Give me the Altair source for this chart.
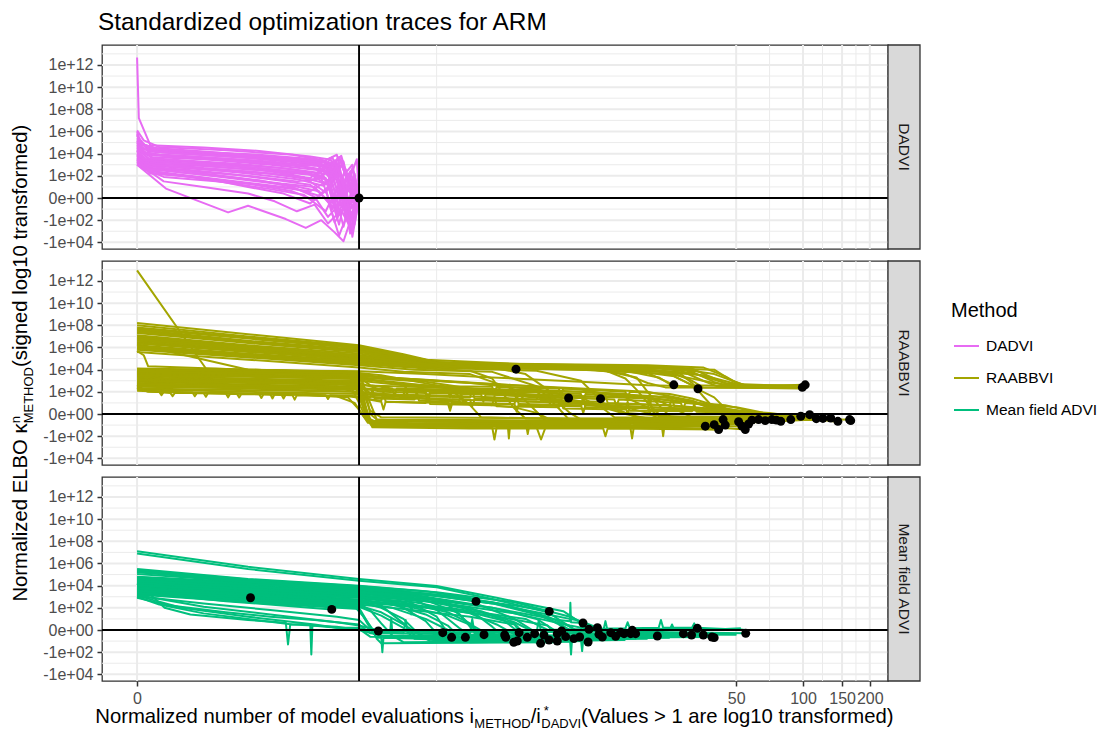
import math
import altair as alt
import pandas as pd

# ---------------------------------------------------------------- data
METHODS = ["DADVI", "RAABBVI", "Mean field ADVI"]
COLORS = ["#E76BF3", "#A3A500", "#00BF7D"]

X_BREAK_VALUES = [0, 50, 100, 150, 200]
X_BREAK_LABELS = ["0", "50", "100", "150", "200"]
Y_BREAK_VALUES = [-4, -2, 0, 2, 4, 6, 8, 10, 12]
Y_BREAK_LABELS = ["-1e+04", "-1e+02", "0e+00", "1e+02", "1e+04",
                  "1e+06", "1e+08", "1e+10", "1e+12"]
Y_MINOR = [-3, -1, 1, 3, 5, 7, 9, 11, 13]
REF_X = [1.0]
REF_Y = [0.0]

# traces, in transformed units: x (<=1 linear, >1 -> 1+log10), y (signed log10)
DADVI_TRACES = [
    [(0, 12.67), (0.008, 7.2), (0.06, 4.75), (0.3, 4.55), (0.55, 4.25), (0.78, 3.75), (0.86, 3.5), (0.9, 3.9), (0.93, 1.2), (0.96, 2.4), (1, 0)],
    [(0, 6.1), (0.03, 5.2), (0.1, 4.6), (0.4, 4.3), (0.7, 3.9), (0.84, 3.4), (0.88, 1.5), (0.92, 3.0), (0.97, 0.6), (1, 0)],
    [(0, 5.6), (0.05, 4.4), (0.25, 4.1), (0.55, 3.8), (0.8, 3.2), (0.86, 2.0), (0.9, 3.2), (0.95, -0.6), (1, 0)],
    [(0, 5.0), (0.04, 4.0), (0.2, 3.8), (0.5, 3.4), (0.75, 2.9), (0.85, 3.3), (0.9, 0.8), (0.94, 2.6), (0.98, -1.0), (1, 0)],
    [(0, 4.6), (0.06, 3.7), (0.3, 3.5), (0.6, 3.0), (0.82, 2.5), (0.87, 1.0), (0.91, 2.8), (0.96, -1.6), (1, 0)],
    [(0, 4.3), (0.03, 3.3), (0.15, 3.2), (0.45, 2.9), (0.7, 2.4), (0.84, 2.0), (0.89, -0.4), (0.93, 1.8), (0.97, -2.2), (1, 0)],
    [(0, 3.9), (0.05, 3.0), (0.2, 2.8), (0.5, 2.4), (0.75, 1.9), (0.85, 0.5), (0.9, 2.2), (0.95, -1.2), (0.99, 1.3), (1, 0)],
    [(0, 3.5), (0.04, 2.7), (0.25, 2.4), (0.5, 2.0), (0.72, 1.5), (0.83, 1.8), (0.88, -1.0), (0.92, 1.0), (0.97, -2.8), (1, 0)],
    [(0, 3.1), (0.035, 2.6), (0.12, 1.9), (0.3, 1.6), (0.55, 1.2), (0.78, 0.6), (0.86, 1.6), (0.9, -1.8), (0.95, 0.7), (1, 0)],
    [(0, 3.0), (0.13, 0.85), (0.41, -1.3), (0.5, -0.7), (0.67, -1.9), (0.76, -2.7), (0.83, -2.0), (0.89, -3.1), (0.93, -3.9), (0.97, -1.5), (1, 0)],
    [(0, 5.3), (0.03, 4.8), (0.12, 4.3), (0.35, 3.9), (0.6, 3.6), (0.8, 3.3), (0.87, 2.6), (0.91, 3.6), (0.95, 1.5), (1, 0)],
    [(0, 4.9), (0.05, 4.2), (0.2, 4.0), (0.45, 3.7), (0.72, 3.2), (0.84, 2.8), (0.88, 3.7), (0.93, 0.2), (0.99, 3.5), (1, 0)],
    [(0, 4.1), (0.04, 3.5), (0.18, 3.3), (0.4, 3.1), (0.65, 2.7), (0.82, 2.2), (0.87, 3.0), (0.92, -0.8), (0.96, 1.9), (1, 0)],
    [(0, 3.7), (0.06, 3.1), (0.3, 2.9), (0.55, 2.5), (0.78, 2.1), (0.86, 1.2), (0.91, -2.4), (0.95, 1.0), (1, 0)],
    [(0, 3.3), (0.04, 2.8), (0.2, 2.3), (0.45, 1.8), (0.65, 1.3), (0.8, 1.0), (0.87, -0.6), (0.92, 1.5), (0.96, -3.2), (1, 0)],
    [(0, 4.5), (0.08, 3.5), (0.3, 3.2), (0.5, 2.7), (0.7, 2.1), (0.85, 1.3), (0.9, 2.5), (0.94, -1.9), (0.98, 1.8), (1, 0)],
    [(0, 3.6), (0.1, 2.2), (0.3, 1.8), (0.5, 1.0), (0.66, 0.4), (0.78, -0.5), (0.85, 0.8), (0.89, -2.2), (0.94, -0.5), (1, 0)],
    [(0, 3.2), (0.12, 1.5), (0.3, 1.0), (0.5, 0.4), (0.62, -0.3), (0.72, -1.2), (0.8, -0.6), (0.86, -2.3), (0.92, -1.1), (0.97, -3.0), (1, 0)],
    [(0, 4.0), (0.07, 2.9), (0.35, 2.5), (0.6, 2.2), (0.8, 1.6), (0.88, 2.6), (0.92, 0.3), (0.96, -0.9), (1, 0)],
    [(0, 5.8), (0.02, 4.9), (0.08, 4.5), (0.3, 4.2), (0.6, 3.7), (0.8, 3.4), (0.88, 3.0), (0.92, 1.8), (0.97, 3.0), (1, 0)],
    [(0, 4.7), (0.05, 3.9), (0.25, 3.6), (0.5, 3.3), (0.76, 2.8), (0.86, 2.4), (0.9, 0.0), (0.95, 2.2), (1, 0)],
    [(0, 3.4), (0.08, 2.4), (0.2, 2.1), (0.45, 1.5), (0.7, 0.9), (0.82, 0.2), (0.88, 1.4), (0.93, -2.6), (0.97, 0.4), (1, 0)],
    [(0, 5.4), (0.04, 4.5), (0.15, 4.1), (0.4, 3.8), (0.65, 3.5), (0.82, 3.0), (0.9, 2.1), (0.93, 3.3), (0.97, -0.3), (1, 0)],
    [(0, 4.4), (0.06, 3.4), (0.22, 3.0), (0.5, 2.6), (0.75, 2.3), (0.85, 1.8), (0.9, -1.3), (0.93, 0.6), (0.98, -2.4), (1, 0)],
    [(0, 3.8), (0.05, 2.7), (0.2, 2.6), (0.4, 2.2), (0.6, 1.7), (0.78, 1.2), (0.86, -0.2), (0.91, -3.4), (0.95, -1.3), (1, 0)],
    [(0, 5.1), (0.02, 4.2), (0.1, 3.9), (0.35, 3.6), (0.6, 3.3), (0.8, 2.9), (0.87, 3.6), (0.91, 1.3), (0.95, -0.8), (0.98, 2.2), (1, 0)],
    [(0, 4.2), (0.06, 3.2), (0.3, 2.7), (0.55, 2.3), (0.78, 1.8), (0.85, 2.9), (0.9, -0.9), (0.94, 1.4), (0.97, -3.5), (1, 0)],
    [(0, 3.0), (0.04, 2.5), (0.2, 2.0), (0.4, 1.4), (0.6, 0.8), (0.75, 0.3), (0.85, -1.2), (0.9, 0.9), (0.96, -2.0), (1, 0)],
    [(0, 6.0), (0.015, 5.0), (0.07, 4.4), (0.25, 4.2), (0.55, 3.9), (0.8, 3.5), (0.88, 3.1), (0.92, 3.8), (0.96, 1.0), (1, 0)],
    [(0, 3.6), (0.05, 2.9), (0.3, 2.2), (0.55, 1.6), (0.7, 1.0), (0.8, 0.1), (0.86, -1.7), (0.92, -0.4), (0.97, -2.7), (1, 0)],
    [(0, 4.8), (0.03, 4.1), (0.15, 3.7), (0.4, 3.4), (0.7, 3.0), (0.83, 2.6), (0.89, 3.4), (0.93, 1.0), (0.97, 2.7), (1, 0)],
    [(0, 3.3), (0.06, 2.2), (0.25, 1.9), (0.5, 1.3), (0.7, 0.6), (0.8, -0.2), (0.87, 1.0), (0.91, -1.5), (0.96, -0.2), (1, 0)],
    [(0, 5.2), (0.03, 4.4), (0.12, 4.1), (0.4, 3.75), (0.65, 3.4), (0.82, 3.1), (0.88, 2.3), (0.92, 3.4), (0.96, 0.5), (1, 0)],
    [(0, 4.55), (0.05, 3.6), (0.2, 3.4), (0.45, 3.1), (0.7, 2.6), (0.84, 2.2), (0.89, 3.1), (0.93, -0.3), (0.97, 1.6), (1, 0)],
    [(0, 3.95), (0.06, 3.0), (0.25, 2.7), (0.5, 2.2), (0.72, 1.7), (0.84, 1.1), (0.9, 2.0), (0.94, -1.0), (0.98, 0.8), (1, 0)],
    [(0, 3.45), (0.05, 2.6), (0.25, 2.2), (0.5, 1.6), (0.7, 1.1), (0.82, 0.6), (0.88, -0.8), (0.93, 0.8), (0.97, -1.8), (1, 0)],
    [(0, 5.7), (0.02, 4.8), (0.1, 4.4), (0.35, 4.05), (0.62, 3.6), (0.8, 3.3), (0.87, 2.8), (0.91, 3.7), (0.95, 2.0), (0.99, -0.5), (1, 0)],
    [(0, 4.25), (0.04, 3.4), (0.2, 3.1), (0.5, 2.8), (0.75, 2.3), (0.86, 1.6), (0.9, 2.9), (0.94, 0.4), (0.98, -1.2), (1, 0)],
]
DADVI_POINTS = [(1.0, 0.0)]

RAABBVI_TRACES = [
    [(0, 12.96), (0.31, 4.1), (0.6, 3.95), (0.95, 3.7), (1.02, 1.0), (1.06, -0.9), (1.5, -1.0), (2.2, -1.0), (2.56, -1.1)],
    [(0, 8.2), (0.5, 7.2), (1.0, 6.2), (1.2, 5.4), (1.35, 4.7), (1.8, 4.3), (2.3, 3.9), (2.55, 3.5), (2.7, 2.7), (3.0, 2.5)],
    [(0, 7.6), (0.5, 6.6), (1.0, 5.8), (1.3, 4.75), (1.6, 4.3), (1.707, 4.04)],
    [(0, 7.3), (0.5, 6.4), (1.0, 5.6), (1.3, 4.6), (1.8, 4.3), (2.35, 3.8), (2.6, 2.8), (2.7, 2.5), (3.01, 2.63)],
    [(0, 7.0), (0.5, 6.1), (1.0, 5.3), (1.25, 4.7), (1.7, 4.25), (2.2, 4.0), (2.42, 3.4), (2.5, 2.6), (2.9, 2.45)],
    [(0, 6.5), (0.5, 5.8), (1.0, 5.0), (1.3, 4.4), (1.9, 4.15), (2.3, 3.7), (2.418, 2.63)],
    [(0, 6.2), (0.45, 5.5), (1.0, 4.8), (1.3, 4.3), (2.0, 4.0), (2.4, 3.6), (2.5, 2.6), (2.527, 2.28)],
    [(0, 6.0), (0.5, 5.3), (1.0, 4.6), (1.3, 4.2), (1.8, 3.9), (2.0, 3.0), (2.1, 1.0), (2.2, 0.1), (2.6, -0.5), (2.8, -0.5)],
    [(0, 5.8), (0.5, 5.1), (1.0, 4.4), (1.25, 4.0), (1.6, 3.8), (1.8, 2.5), (1.9, 0.5), (1.95, -0.6), (2.5, -0.8), (2.64, -0.5)],
    [(0, 5.6), (0.5, 4.9), (1.0, 4.2), (1.2, 3.8), (1.5, 3.6), (1.7, 2.2), (1.8, 0.2), (1.85, -0.8), (2.4, -0.9), (2.6, -0.96)],
    [(0, 5.7), (0.03, 5.3), (0.05, 4.3), (0.5, 4.0), (1.0, 3.8), (1.04, 1.5), (1.08, -0.5), (1.3, -0.7), (2.0, -0.8), (2.71, -0.7)],
    [(0, 6.3), (0.5, 4.0), (1.0, 3.7), (1.1, 3.5), (1.4, 2.4), (1.5, 0.8), (1.55, -0.3), (2.3, -0.6), (2.8, -0.5)],
    [(0, 4.1), (0.5, 3.95), (0.95, 3.8), (1.0, 2.5), (1.03, -0.3), (1.1, -0.9), (1.67, -1.0), (1.675, -2.2), (1.68, -1.0), (2.0, -1.0), (2.62, -1.4)],
    [(0, 3.9), (0.5, 3.75), (0.97, 3.55), (1.01, 1.0), (1.05, -0.6), (1.5, -0.7), (2.3, -0.8), (2.74, -1.4)],
    [(0, 3.7), (0.6, 3.5), (1.0, 3.3), (1.3, 2.9), (1.6, 2.0), (1.8, 1.5), (1.944, 1.44)],
    [(0, 3.6), (0.6, 3.4), (1.0, 3.2), (1.2, 2.8), (1.6, 1.8), (1.9, 1.5), (2.088, 1.38)],
    [(0, 3.5), (0.5, 3.4), (0.98, 3.2), (1.02, 0.5), (1.06, -1.0), (1.8, -1.2), (1.82, -2.3), (1.84, -1.2), (2.6, -1.1), (3.0, -0.2)],
    [(0, 2.8), (0.3, 2.6), (0.7, 2.4), (1.0, 2.3), (1.2, 2.2), (1.21, 1.4), (1.22, 2.2), (1.6, 2.1), (2.0, 2.0), (2.4, 1.5), (2.6, 0.6), (2.8, 0.0), (3.06, -0.42)],
    [(0, 2.6), (0.03, 2.2), (0.1, 2.0), (0.11, 1.7), (0.12, 2.0), (0.25, 1.95), (0.26, 1.6), (0.27, 1.9), (0.45, 1.8), (0.46, 1.5), (0.47, 1.8), (0.7, 1.7), (0.71, 1.3), (0.72, 1.7), (0.9, 1.6), (0.98, 1.0), (1.02, -0.2), (1.06, -1.1), (1.6, -1.2), (1.61, -2.3), (1.62, -1.2), (2.4, -1.2), (2.56, -1.1)],
    [(0, 2.4), (0.03, 2.1), (0.15, 1.9), (0.16, 1.6), (0.17, 1.9), (0.4, 1.9), (0.55, 1.8), (0.56, 1.45), (0.57, 1.8), (0.7, 1.8), (0.95, 1.5), (1.0, 0.4), (1.04, -0.8), (1.8, -0.9), (2.22, -0.9), (2.23, -2.2), (2.24, -0.9), (2.6, -0.9), (3.13, -0.42)],
    [(0, 2.9), (0.4, 2.7), (0.9, 2.5), (1.0, 1.8), (1.2, 1.5), (1.4, 1.3), (1.41, 0.6), (1.42, 1.3), (1.6, 1.2), (2.0, 1.0), (2.4, 0.8), (2.7, 0.3), (2.85, 0.1), (3.16, -0.72)],
    [(0, 3.2), (0.5, 3.0), (1.0, 2.8), (1.1, 2.2), (1.5, 1.9), (1.9, 1.7), (2.3, 1.4), (2.65, 0.8), (2.95, -0.6)],
    [(0, 3.3), (0.5, 3.1), (1.0, 2.9), (1.05, 0.3), (1.1, -0.3), (2.0, -0.4), (2.36, -0.4), (2.37, -2.0), (2.38, -0.4), (2.7, -0.6), (3.21, -0.5)],
    [(0, 7.8), (0.5, 6.9), (1.0, 6.0), (1.3, 4.9), (1.8, 4.45), (2.4, 4.2), (2.6, 3.6), (2.75, 2.5), (2.997, 2.4)],
    [(0, 2.2), (0.5, 2.0), (1.0, 1.8), (1.3, 1.7), (1.31, 1.2), (1.32, 1.7), (1.6, 1.5), (1.8, 1.3), (2.0, 1.1), (2.2, 0.6), (2.3, 0.1), (2.35, -0.4), (2.8, -0.5)],
    [(0, 2.7), (0.5, 2.5), (1.0, 2.2), (1.4, 2.1), (1.7, 1.9), (1.9, 1.5), (2.1, 0.8), (2.2, 0.1), (2.25, -0.3), (2.9, -0.66)],
    [(0, 3.0), (0.5, 2.8), (1.0, 2.6), (1.5, 2.3), (1.9, 2.1), (2.2, 1.8), (2.35, 1.2), (2.45, 0.2), (2.5, -0.3), (2.95, -0.6)],
    [(0, 2.5), (0.5, 2.3), (1.0, 2.0), (1.2, 1.6), (1.5, 1.0), (1.7, 0.6), (1.8, 0.1), (1.85, -0.4), (2.64, -0.5)],
    [(0, 3.4), (0.5, 3.2), (1.0, 3.0), (1.2, 2.6), (1.5, 2.3), (1.8, 2.0), (2.0, 1.6), (2.3, 1.5), (2.5, 1.0), (2.65, 0.5), (2.75, 0.2), (2.8, -0.5)],
    [(0, 4.0), (0.5, 3.9), (0.97, 3.75), (1.1, 3.3), (1.4, 2.9), (1.7, 2.6), (2.0, 2.3), (2.3, 2.0), (2.5, 1.2), (2.6, 0.3), (2.65, -0.2), (3.03, -0.06)],
    [(0, 7.5), (0.5, 6.5), (1.0, 5.7), (1.3, 4.7), (1.8, 4.35), (2.3, 4.0), (2.5, 3.7), (2.65, 2.8), (2.75, 2.45), (2.95, 2.45)],
    [(0, 6.8), (0.5, 6.0), (1.0, 5.2), (1.3, 4.5), (1.9, 4.2), (2.2, 3.9), (2.35, 3.3), (2.4, 2.7), (2.418, 2.63)],
    [(0, 6.6), (0.5, 5.9), (1.0, 5.1), (1.3, 4.45), (1.6, 4.2), (1.75, 3.6), (1.85, 2.2), (1.9, 1.0), (1.95, 0.1), (2.0, -0.5), (2.9, -0.6)],
    [(0, 5.9), (0.5, 5.2), (1.0, 4.5), (1.3, 4.1), (1.5, 3.9), (1.6, 3.2), (1.65, 1.8), (1.7, 0.5), (1.75, -0.4), (2.7, -0.6)],
    [(0, 6.1), (0.5, 5.4), (1.0, 4.7), (1.3, 4.25), (2.1, 3.95), (2.25, 3.3), (2.3, 2.0), (2.35, 0.8), (2.4, -0.2), (3.0, -0.3)],
    [(0, 4.05), (0.5, 3.95), (1.0, 3.85), (1.3, 3.6), (1.6, 3.3), (2.0, 2.9), (2.3, 2.6), (2.5, 2.5), (2.6, 1.5), (2.65, 0.5), (2.7, -0.3), (3.1, -0.4)],
    [(0, 3.85), (0.5, 3.75), (1.0, 3.6), (1.03, 2.0), (1.05, 0.0), (1.08, -0.5), (2.0, -0.6), (2.88, -0.55)],
    [(0, 3.75), (0.5, 3.7), (1.0, 3.5), (1.2, 3.2), (1.5, 2.8), (1.8, 2.2), (2.0, 1.5), (2.1, 0.5), (2.15, -0.3), (2.83, -0.6)],
    [(0, 3.95), (0.5, 3.85), (0.99, 3.7), (1.02, 1.5), (1.05, -0.8), (1.1, -1.0), (2.0, -1.1), (2.725, -1.1)],
    [(0, 3.65), (0.5, 3.55), (1.0, 3.4), (1.3, 3.1), (1.7, 2.6), (2.0, 2.2), (2.2, 1.5), (2.3, 0.6), (2.35, -0.2), (2.755, -0.9)],
    [(0, 2.75), (0.5, 2.6), (1.0, 2.45), (1.02, 0.5), (1.05, -0.6), (2.0, -0.7), (2.77, -0.55)],
    [(0, 2.55), (0.5, 2.45), (1.0, 2.3), (1.3, 2.0), (1.31, 1.3), (1.32, 2.0), (1.6, 1.8), (1.9, 1.3), (2.1, 0.6), (2.2, 0.0), (2.3, -0.4), (2.86, -0.5)],
    [(0, 2.35), (0.05, 2.0), (0.3, 1.9), (0.31, 1.55), (0.32, 1.9), (0.6, 1.8), (0.61, 1.4), (0.62, 1.8), (0.85, 1.7), (0.86, 1.35), (0.87, 1.7), (1.0, 1.6), (1.2, 1.4), (1.5, 1.3), (1.51, 0.7), (1.52, 1.3), (1.8, 1.1), (2.0, 0.9), (2.2, 0.7), (2.21, 0.0), (2.22, 0.7), (2.5, 0.4), (2.7, 0.2), (2.85, 0.0), (3.09, -0.4)],
    [(0, 2.1), (0.2, 1.95), (0.4, 1.85), (0.41, 1.5), (0.42, 1.85), (0.65, 1.75), (0.66, 1.4), (0.67, 1.75), (0.95, 1.6), (1.1, 1.2), (1.11, 2.0), (1.12, 1.1), (1.3, 1.0), (1.31, 1.8), (1.32, 0.9), (1.6, 0.8), (1.61, 1.6), (1.62, 0.7), (1.9, 0.6), (1.91, 1.3), (1.92, 0.5), (2.2, 0.4), (2.21, 1.1), (2.22, 0.3), (2.5, 0.25), (2.51, 0.9), (2.52, 0.2), (2.75, 0.1), (2.9, -0.5)],
    [(0, 2.3), (0.3, 2.2), (0.7, 2.1), (1.0, 2.0), (1.05, 1.5), (1.06, 2.3), (1.07, 1.4), (1.25, 1.3), (1.26, 2.0), (1.27, 1.2), (1.45, 1.1), (1.46, 1.9), (1.47, 1.0), (1.7, 0.9), (1.71, 1.7), (1.72, 0.8), (2.0, 0.7), (2.01, 1.4), (2.02, 0.6), (2.3, 0.5), (2.31, 1.2), (2.32, 0.4), (2.6, 0.3), (2.8, 0.1), (2.95, -0.5)],
    [(0, 8.0), (0.5, 7.0), (1.0, 6.1), (1.2, 5.3), (1.35, 4.65), (1.8, 4.5), (2.3, 4.4), (2.55, 4.2), (2.65, 3.4), (2.72, 2.6), (3.0, 2.55)],
    [(0, 7.4), (0.5, 6.5), (1.0, 5.65), (1.3, 4.6), (1.8, 4.4), (2.3, 4.3), (2.5, 4.1), (2.6, 3.2), (2.68, 2.5), (2.98, 2.5)],
    [(0, 7.1), (0.5, 6.2), (1.0, 5.45), (1.3, 4.55), (1.8, 4.35), (2.3, 4.2), (2.45, 3.9), (2.55, 3.0), (2.62, 2.45), (2.95, 2.4)],
    [(0, 6.9), (0.5, 6.05), (1.0, 5.3), (1.3, 4.5), (1.8, 4.3), (2.3, 4.15), (2.6, 4.0), (2.68, 3.0), (2.75, 2.5), (3.0, 2.45)],
    [(0, 6.4), (0.5, 5.7), (1.0, 4.95), (1.3, 4.4), (1.8, 4.25), (2.2, 4.1), (2.4, 3.8), (2.5, 3.0), (2.55, 2.4), (2.8, 2.35), (2.99, 2.3)],
    [(0, 6.7), (0.5, 5.95), (1.0, 5.2), (1.3, 4.5), (1.7, 4.3), (2.0, 4.15), (2.2, 3.6), (2.3, 2.8), (2.38, 2.4), (2.9, 2.35)],
    [(0, 5.95), (0.5, 5.25), (1.0, 4.55), (1.3, 4.3), (1.8, 4.2), (2.1, 4.0), (2.2, 3.2), (2.25, 2.2), (2.3, 1.0), (2.35, 0.0), (2.4, -0.5), (2.95, -0.5)],
    [(0, 7.7), (0.5, 6.8), (1.0, 5.9), (1.25, 5.0), (1.35, 4.6), (1.9, 4.45), (2.35, 4.3), (2.5, 3.8), (2.6, 2.9), (2.66, 2.5), (2.97, 2.5)],
    [(0, 6.35), (0.5, 5.6), (1.0, 4.9), (1.3, 4.35), (1.9, 4.2), (2.3, 4.05), (2.45, 3.6), (2.5, 2.8), (2.55, 1.6), (2.6, 0.5), (2.65, -0.3), (3.05, -0.3)],
    [(0, 3.55), (0.5, 3.45), (1.0, 3.3), (1.05, 2.6), (1.15, 2.3), (1.16, 1.6), (1.17, 2.3), (1.4, 2.2), (1.41, 1.5), (1.42, 2.2), (1.7, 2.0), (1.71, 1.2), (1.72, 2.0), (2.0, 1.8), (2.01, 1.0), (2.02, 1.8), (2.3, 1.6), (2.31, 0.8), (2.32, 1.6), (2.5, 1.2), (2.6, 0.5), (2.7, -0.2), (3.0, -0.3)],
    [(0, 3.1), (0.5, 2.95), (1.0, 2.7), (1.05, 1.9), (1.2, 1.7), (1.21, 2.5), (1.22, 1.6), (1.5, 1.5), (1.51, 2.2), (1.52, 1.4), (1.8, 1.3), (1.81, 2.0), (1.82, 1.2), (2.1, 1.1), (2.11, 1.7), (2.12, 1.0), (2.4, 0.8), (2.41, 1.5), (2.42, 0.7), (2.6, 0.4), (2.75, 0.1), (2.85, -0.5)],
    [(0, 2.65), (0.5, 2.55), (1.0, 2.4), (1.1, 2.0), (1.3, 1.9), (1.31, 1.3), (1.32, 1.9), (1.55, 1.75), (1.56, 1.1), (1.57, 1.75), (1.85, 1.55), (1.86, 0.9), (1.87, 1.55), (2.15, 1.3), (2.16, 0.7), (2.17, 1.3), (2.45, 1.0), (2.46, 0.4), (2.47, 1.0), (2.7, 0.6), (2.8, 0.2), (2.9, -0.4)],
    [(0, 3.0), (0.5, 2.85), (1.0, 2.65), (1.02, 1.4), (1.1, 1.1), (1.11, 0.4), (1.12, 1.1), (1.4, 1.0), (1.41, 0.3), (1.42, 1.0), (1.7, 0.9), (1.71, 0.2), (1.72, 0.9), (2.0, 0.8), (2.01, 0.1), (2.02, 0.8), (2.3, 0.6), (2.31, 0.0), (2.32, 0.6), (2.6, 0.4), (2.8, 0.1), (2.85, -0.3), (3.1, -0.3)],
    [(0, 3.45), (0.5, 3.35), (1.0, 3.15), (1.2, 2.7), (1.4, 2.5), (1.6, 2.45), (1.61, 1.8), (1.62, 2.45), (1.9, 2.3), (1.91, 1.6), (1.92, 2.3), (2.2, 2.0), (2.21, 1.4), (2.22, 2.0), (2.4, 1.8), (2.5, 1.4), (2.6, 0.8), (2.7, 0.2), (2.75, -0.3), (3.0, -0.35)],
    [(0, 3.8), (0.5, 3.7), (0.98, 3.5), (1.01, 2.0), (1.03, 0.0), (1.06, -1.2), (1.5, -1.3), (2.0, -1.3), (2.1, -1.3), (2.11, -2.0), (2.12, -1.3), (2.62, -1.4)],
    [(0, 2.45), (0.5, 2.35), (0.97, 2.2), (1.0, 1.0), (1.03, -0.4), (1.06, -0.6), (1.5, -0.65), (1.75, -0.65), (1.76, -1.8), (1.77, -0.65), (2.5, -0.7), (2.65, -1.0)],
]
RAABBVI_POINTS = [
    (1.707, 4.04), (1.944, 1.44), (2.088, 1.38), (2.418, 2.63), (2.527, 2.28), (2.997, 2.4), (3.01, 2.63),
    (2.56, -1.1), (2.60, -0.96), (2.62, -1.4), (2.64, -0.5), (2.65, -1.0), (2.71, -0.7), (2.725, -1.1),
    (2.74, -1.4), (2.755, -0.9), (2.77, -0.55), (2.80, -0.5), (2.83, -0.6), (2.86, -0.5), (2.88, -0.55),
    (2.90, -0.66), (2.945, -0.5), (2.99, -0.2), (3.03, -0.06), (3.06, -0.42), (3.09, -0.4), (3.125, -0.36),
    (3.157, -0.66), (3.21, -0.5), (3.215, -0.6),
]

MFADVI_TRACES = [
    [(0, 7.1), (0.5, 5.7), (1.0, 4.6), (1.35, 3.96), (1.62, 2.9), (1.92, 1.7), (2.01, 0.5), (2.07, 0.0), (2.4, -0.2), (2.742, -0.3)],
    [(0, 6.9), (0.5, 5.5), (1.0, 4.45), (1.35, 3.85), (1.6, 2.8), (1.85, 1.6), (1.95, 0.3), (2.0, -0.3), (2.5, -0.4), (2.6, -0.69)],
    [(0, 5.5), (0.5, 4.6), (1.0, 4.0), (1.3, 3.5), (1.5, 2.9), (1.527, 2.58)],
    [(0, 5.3), (0.5, 4.5), (1.0, 3.85), (1.4, 3.1), (1.7, 2.2), (1.857, 1.68)],
    [(0, 5.2), (0.5, 4.4), (1.0, 3.75), (1.3, 3.0), (1.5, 1.8), (1.6, 0.3), (1.65, -0.6), (2.2, -0.7), (2.461, -0.33)],
    [(0, 4.8), (0.5, 4.3), (1.0, 3.9), (1.2, 3.5), (1.4, 2.3), (1.5, 0.5), (1.55, -0.4), (1.9, -0.6), (2.3, -0.55), (2.344, -0.54)],
    [(0, 4.6), (0.5, 4.1), (1.0, 3.6), (1.25, 3.1), (1.45, 1.5), (1.52, -0.2), (1.563, -0.42)],
    [(0, 4.5), (0.5, 3.9), (1.0, 3.4), (1.2, 2.8), (1.35, 1.2), (1.4, -0.3), (1.417, -0.66)],
    [(0, 4.3), (0.5, 3.7), (1.0, 3.2), (1.15, 2.6), (1.3, 0.8), (1.35, -0.3), (1.377, -0.24)],
    [(0, 4.2), (0.5, 3.6), (1.0, 3.0), (1.1, 2.2), (1.2, 0.6), (1.25, -0.5), (1.479, -0.66)],
    [(0, 4.0), (0.5, 3.4), (0.95, 2.8), (1.02, 1.2), (1.06, 0.1), (1.087, -0.09)],
    [(0, 3.9), (0.5, 3.3), (1.0, 2.7), (1.2, 2.3), (1.5, 1.6), (1.7, 0.6), (1.75, -0.5), (1.758, -0.66)],
    [(0, 3.7), (0.3, 3.2), (0.511, 2.91)],
    [(0, 3.4), (0.4, 2.6), (0.877, 1.86)],
    [(0, 3.6), (0.5, 3.0), (1.0, 2.5), (1.3, 2.0), (1.6, 1.3), (1.85, 0.4), (1.9, -0.8), (1.95, -0.7), (1.955, -2.2), (1.96, -0.7), (1.968, -0.78)],
    [(0, 3.5), (0.5, 2.9), (1.0, 2.3), (1.2, 1.9), (1.5, 1.2), (1.7, 0.5), (1.75, -0.9), (1.818, -1.2)],
    [(0, 3.3), (0.5, 2.7), (1.0, 2.1), (1.1, 1.3), (1.2, 0.2), (1.25, -0.8), (1.697, -1.11)],
    [(0, 3.2), (0.5, 2.5), (1.0, 1.9), (1.04, 0.5), (1.08, -0.7), (1.1, -0.7), (1.105, -2.0), (1.11, -0.7), (1.5, -0.9), (2.0, -0.9), (2.005, -1.9), (2.01, -0.9), (2.032, -1.08)],
    [(0, 4.2), (0.076, 2.9), (0.124, 2.0), (0.24, 1.4), (0.5, 0.9), (0.67, 0.66), (0.68, -1.3), (0.69, 0.5), (0.78, 0.55), (0.785, -2.2), (0.79, 0.4), (0.9, 0.2), (1.0, 0.1), (1.05, -0.6), (2.0, -0.7), (2.59, -0.63)],
    [(0, 3.0), (0.1, 2.3), (0.3, 1.5), (0.5, 1.0), (0.7, 0.5), (0.9, 0.3), (1.0, 0.0), (1.1, -0.5), (1.8, -0.6), (2.224, -0.33)],
    [(0, 2.9), (0.15, 2.2), (0.4, 1.6), (0.6, 1.2), (0.8, 0.9), (1.0, 0.5), (1.05, -0.3), (1.14, -0.3), (1.145, 1.1), (1.15, -0.3), (1.6, -0.45), (1.656, -0.45)],
    [(0, 4.4), (0.5, 3.8), (1.0, 3.3), (1.3, 2.8), (1.6, 2.0), (1.9, 0.9), (1.95, 0.8), (1.952, 2.46), (1.955, 0.7), (2.009, 0.63)],
    [(0, 4.1), (0.5, 3.5), (1.0, 3.1), (1.35, 2.5), (1.7, 1.5), (1.95, 0.4), (2.03, 0.1), (2.074, 0.21)],
    [(0, 3.95), (0.5, 3.35), (1.0, 2.9), (1.23, 2.3), (1.235, 1.4), (1.24, 2.2), (1.4, 2.0), (1.75, 1.0), (1.85, 0.0), (1.9, -0.2), (2.3, 0.1), (2.524, 0.15)],
    [(0, 4.7), (0.5, 4.2), (1.0, 3.7), (1.2, 3.2), (1.35, 1.8), (1.45, 0.2), (1.5, -0.5), (2.0, -0.5), (2.6, -0.3)],
    [(0, 4.75), (0.5, 4.25), (1.0, 3.8), (1.3, 3.3), (1.6, 2.5), (1.8, 1.5), (1.9, 0.5), (1.95, -0.3), (2.6, -0.5)],
    [(0, 4.55), (0.5, 4.0), (1.0, 3.5), (1.3, 3.0), (1.55, 2.2), (1.7, 1.0), (1.78, 0.0), (1.8, -0.5), (2.5, -0.6)],
    [(0, 4.35), (0.5, 3.8), (1.0, 3.3), (1.25, 2.8), (1.5, 2.0), (1.65, 0.9), (1.72, -0.2), (1.75, -0.8), (2.4, -0.7)],
    [(0, 4.15), (0.5, 3.55), (1.0, 3.05), (1.2, 2.5), (1.4, 1.6), (1.5, 0.6), (1.55, -0.6), (1.6, -0.9), (2.3, -0.8)],
    [(0, 3.85), (0.5, 3.25), (1.0, 2.75), (1.15, 2.3), (1.3, 1.4), (1.4, 0.4), (1.45, -0.6), (1.5, -1.0), (2.2, -0.9)],
    [(0, 3.65), (0.5, 3.05), (1.0, 2.6), (1.1, 2.0), (1.2, 1.0), (1.25, 0.0), (1.3, -0.7), (1.35, -1.0), (2.1, -0.9)],
    [(0, 3.45), (0.5, 2.85), (1.0, 2.35), (1.05, 1.8), (1.1, 0.6), (1.15, -0.5), (1.2, -1.1), (2.0, -1.0)],
    [(0, 3.25), (0.5, 2.6), (1.0, 2.0), (1.03, 1.0), (1.06, 0.0), (1.08, -0.8), (1.1, -1.2), (1.9, -1.1)],
    [(0, 5.4), (0.5, 4.55), (1.0, 3.95), (1.35, 3.4), (1.7, 2.5), (1.95, 1.2), (2.05, 0.3), (2.1, -0.2), (2.7, -0.4)],
    [(0, 5.25), (0.5, 4.45), (1.0, 3.8), (1.3, 3.2), (1.6, 2.4), (1.8, 1.6), (2.0, 0.8), (2.1, 0.0), (2.2, -0.4), (2.6, -0.4)],
    [(0, 3.1), (0.2, 2.0), (0.5, 1.2), (0.8, 0.5), (0.9, 0.2), (1.0, 0.2), (1.05, -0.2), (1.2, -0.3), (1.21, 0.9), (1.22, -0.3), (1.5, -0.3), (1.51, 1.0), (1.52, -0.3), (1.8, -0.2), (1.81, 0.9), (1.82, -0.2), (2.1, -0.1), (2.11, 0.8), (2.12, -0.1), (2.4, 0.0), (2.41, 0.5), (2.42, 0.0), (2.7, 0.1), (2.74, 0.0)],
    [(0, 4.65), (0.5, 4.15), (1.0, 3.65), (1.35, 3.1), (1.65, 2.3), (1.85, 1.2), (1.95, 0.3), (2.0, -0.4), (2.55, -0.5)],
    [(0, 4.45), (0.5, 3.9), (1.0, 3.4), (1.3, 2.9), (1.6, 2.0), (1.8, 1.0), (1.88, 0.0), (1.92, -0.6), (2.45, -0.6)],
    [(0, 4.25), (0.5, 3.7), (1.0, 3.15), (1.3, 2.6), (1.55, 1.7), (1.7, 0.7), (1.8, -0.3), (1.85, -0.8), (2.35, -0.7)],
    [(0, 4.05), (0.5, 3.45), (1.0, 2.95), (1.25, 2.5), (1.5, 1.5), (1.62, 0.5), (1.7, -0.4), (1.75, -0.9), (2.25, -0.8)],
    [(0, 3.75), (0.5, 3.15), (1.0, 2.65), (1.2, 2.2), (1.4, 1.3), (1.52, 0.3), (1.6, -0.6), (1.65, -1.0), (2.15, -0.9)],
    [(0, 3.55), (0.5, 2.95), (1.0, 2.45), (1.15, 2.0), (1.3, 1.0), (1.4, 0.0), (1.45, -0.8), (1.5, -1.1), (2.05, -1.0)],
    [(0, 3.35), (0.5, 2.75), (1.0, 2.2), (1.1, 1.6), (1.2, 0.5), (1.28, -0.5), (1.32, -1.0), (1.95, -1.05)],
    [(0, 5.05), (0.5, 4.35), (1.0, 3.7), (1.3, 3.2), (1.6, 2.4), (1.8, 1.4), (1.9, 0.6), (1.95, 0.0), (2.0, -0.5), (2.7, -0.4)],
    [(0, 3.05), (0.3, 2.4), (0.6, 1.8), (0.9, 1.2), (1.0, 0.9), (1.05, 0.0), (1.1, -0.6), (1.4, -0.8), (1.8, -0.8), (2.3, -0.6), (2.5, -0.5)],
    [(0, 3.15), (0.3, 2.1), (0.6, 1.4), (0.9, 0.7), (1.0, 0.4), (1.1, -0.1), (1.4, -0.2), (1.7, -0.1), (2.0, 0.1), (2.01, 0.6), (2.02, 0.1), (2.2, 0.15), (2.21, 0.7), (2.22, 0.15), (2.35, 0.2), (2.36, 0.9), (2.37, 0.2), (2.5, 0.2), (2.51, 0.6), (2.52, 0.2), (2.65, 0.1), (2.72, 0.15)],
]
MFADVI_POINTS = [
    (0.511, 2.91), (0.877, 1.86), (1.087, -0.09), (1.377, -0.24), (1.417, -0.66), (1.479, -0.66), (1.527, 2.58),
    (1.563, -0.42), (1.656, -0.45), (1.661, -0.66), (1.697, -1.11), (1.713, -0.99), (1.721, -0.24), (1.758, -0.66),
    (1.791, -0.33), (1.818, -1.2), (1.833, -0.45), (1.856, -0.9), (1.857, 1.68), (1.893, -0.99), (1.893, -0.33),
    (1.913, -0.09), (1.931, -0.6), (1.968, -0.78), (1.994, -0.63), (2.009, 0.63), (2.032, -1.08), (2.036, 0.06),
    (2.074, 0.21), (2.081, -0.39), (2.096, -0.63), (2.134, -0.24), (2.156, -0.57), (2.179, -0.21), (2.194, -0.33),
    (2.224, -0.33), (2.231, -0.03), (2.246, -0.33), (2.344, -0.54), (2.461, -0.33), (2.498, -0.45), (2.524, 0.15),
    (2.551, -0.45), (2.59, -0.63), (2.6, -0.69), (2.742, -0.3),
]

TRACES = {"DADVI": DADVI_TRACES, "RAABBVI": RAABBVI_TRACES, "Mean field ADVI": MFADVI_TRACES}
POINTS = {"DADVI": DADVI_POINTS, "RAABBVI": RAABBVI_POINTS, "Mean field ADVI": MFADVI_POINTS}

# ---------------------------------------------------------------- layout constants
W, H, GAP = 786, 204, 12
PLOT_LEFT, PLOT_TOP = 101, 44
STRIP_W = 32
FONT = "Liberation Sans"
X_DOMAIN = [-0.158, 3.383]
Y_DOMAIN = [-4.6, 13.8]
GRID = "#EBEBEB"
AX_FS, SUB_FS = 20.3, 13


def tx(v):
    return v if v <= 1 else 1 + math.log10(v)


X_MAJOR = [tx(v) for v in X_BREAK_VALUES]
X_MINOR = [(a + b) / 2 for a, b in zip(X_MAJOR[:-1], X_MAJOR[1:])]


def label_expr(values, labels):
    expr = "''"
    for v, l in reversed(list(zip(values, labels))):
        expr = f"abs(datum.value - ({v})) < 1e-6 ? '{l}' : ({expr})"
    return expr


# Helvetica / Liberation Sans advance widths (1/1000 em)
HW = {" ": 278, "(": 333, ")": 333, "*": 389, "+": 584, "/": 278, ">": 584, "κ": 500}
HW.update({d: 556 for d in "0123456789"})
HW.update(dict(zip("ABCDEFGHIJKLMNOPQRSTUVWXYZ",
                   [667, 667, 722, 722, 667, 611, 778, 722, 278, 500, 667, 556, 833, 722, 778, 667,
                    778, 722, 667, 611, 722, 667, 944, 667, 667, 611])))
HW.update(dict(zip("abcdefghijklmnopqrstuvwxyz",
                   [556, 556, 500, 556, 556, 278, 556, 556, 222, 222, 500, 222, 833, 556, 556, 556,
                    556, 333, 500, 278, 556, 500, 722, 500, 500, 500])))


def tw(s, size):
    return sum(HW.get(c, 556) for c in s) * size / 1000.0


lines_rows, point_rows = [], []
for m in METHODS:
    for ti, tr in enumerate(TRACES[m]):
        for k, (x, y) in enumerate(tr):
            lines_rows.append({"method": m, "trace": ti, "step": k, "x": x, "y": y})
    for (x, y) in POINTS[m]:
        point_rows.append({"method": m, "x": x, "y": y})
lines_df = pd.DataFrame(lines_rows)
points_df = pd.DataFrame(point_rows)

xs = alt.Scale(domain=X_DOMAIN, nice=False, zero=False)
ys = alt.Scale(domain=Y_DOMAIN, nice=False, zero=False)

y_axis = alt.Axis(values=Y_BREAK_VALUES, labelExpr=label_expr(Y_BREAK_VALUES, Y_BREAK_LABELS),
                  title=None, grid=False, domain=False, tickColor="#333333", tickWidth=1.5,
                  tickSize=5, labelPadding=4, labelFont=FONT, labelFontSize=16,
                  labelColor="#4D4D4D", labelOverlap=False, labelFlush=False, labelBound=False)
x_axis_bottom = alt.Axis(values=X_MAJOR, labelExpr=label_expr(X_MAJOR, X_BREAK_LABELS),
                         title=None, grid=False, domain=False, tickColor="#333333", tickWidth=1.5,
                         tickSize=5, labelPadding=4, labelFont=FONT, labelFontSize=16,
                         labelColor="#4D4D4D", labelOverlap=False, labelFlush=False, labelBound=False)


def text_layer(txt, x, y, size, angle=0, align="left", baseline="alphabetic", color="black"):
    return alt.Chart(pd.DataFrame({"t": [txt]})).mark_text(
        font=FONT, fontSize=size, angle=angle, align=align, baseline=baseline, color=color
    ).encode(text="t:N", x=alt.value(x), y=alt.value(y))


def panel(idx, method, color):
    last = idx == len(METHODS) - 1
    top = PLOT_TOP + idx * (H + GAP)
    xa = x_axis_bottom if last else None
    X = lambda: alt.X("x:Q", scale=xs, axis=xa)
    Y = lambda: alt.Y("y:Q", scale=ys, axis=y_axis)
    layers = [
        alt.Chart(pd.DataFrame({"x": X_MINOR})).mark_rule(color=GRID, strokeWidth=1).encode(x=X()),
        alt.Chart(pd.DataFrame({"y": Y_MINOR})).mark_rule(color=GRID, strokeWidth=1).encode(y=Y()),
        alt.Chart(pd.DataFrame({"x": X_MAJOR})).mark_rule(color=GRID, strokeWidth=2).encode(x=X()),
        alt.Chart(pd.DataFrame({"y": Y_BREAK_VALUES})).mark_rule(color=GRID, strokeWidth=2).encode(y=Y()),
        alt.Chart(lines_df[lines_df.method == method]).mark_line(
            color=color, strokeWidth=2, clip=True, strokeJoin="round"
        ).encode(x=X(), y=Y(), detail="trace:N", order="step:Q"),
        alt.Chart(pd.DataFrame({"y": REF_Y})).mark_rule(color="black", strokeWidth=1.9).encode(y=Y()),
        alt.Chart(pd.DataFrame({"x": REF_X})).mark_rule(color="black", strokeWidth=1.9).encode(x=X()),
        alt.Chart(points_df[points_df.method == method]).mark_circle(
            color="black", opacity=1, size=80, clip=True
        ).encode(x=X(), y=Y()),
        # facet strip
        alt.Chart(pd.DataFrame({"t": [method]})).mark_rect(
            fill="#D9D9D9", stroke="#333333", strokeWidth=1.3
        ).encode(x=alt.value(W), x2=alt.value(W + STRIP_W), y=alt.value(0), y2=alt.value(H)),
        text_layer(method, W + STRIP_W / 2, H / 2, 15.5, angle=90, align="center",
                   baseline="middle", color="#1A1A1A"),
    ]
    if idx == 0:
        # white 1px anchor fixing the page's top-left corner (page x=8, y=8)
        layers.append(alt.Chart(pd.DataFrame({"a": [0]})).mark_rect(color="white").encode(
            x=alt.value(8 - PLOT_LEFT), x2=alt.value(9 - PLOT_LEFT),
            y=alt.value(8 - top), y2=alt.value(9 - top)))
        layers.append(text_layer("Standardized optimization traces for ARM", 97 - PLOT_LEFT, 28.5 - top, 24.4))
    if idx == 1:
        # y-axis title with super/subscripts (rotated)
        p1, sup, sub, p3 = "Normalized ELBO κ", "n", "METHOD", "(signed log10 transformed)"
        total = tw(p1, AX_FS) + max(tw(sup, SUB_FS), tw(sub, SUB_FS)) + tw(p3, AX_FS)
        center = PLOT_TOP + (3 * H + 2 * GAP) / 2 - top
        y0 = center + total / 2
        bx = 26 - PLOT_LEFT
        layers.append(text_layer(p1, bx, y0, AX_FS, angle=270))
        y1 = y0 - tw(p1, AX_FS)
        layers.append(text_layer(sup, bx - 7, y1, SUB_FS, angle=270))
        layers.append(text_layer(sub, bx + 6, y1, SUB_FS, angle=270))
        y2 = y1 - max(tw(sup, SUB_FS), tw(sub, SUB_FS))
        layers.append(text_layer(p3, bx, y2, AX_FS, angle=270))
        # legend
        layers.append(text_layer("Method", 950 - PLOT_LEFT, 310 - top, 20, baseline="middle"))
        for j, (m, c) in enumerate(zip(METHODS, COLORS)):
            yy = 345 + 32 * j - top
            layers.append(alt.Chart(pd.DataFrame({"m": [m]})).mark_rule(color=c, strokeWidth=2).encode(
                x=alt.value(953 - PLOT_LEFT), x2=alt.value(978 - PLOT_LEFT), y=alt.value(yy)))
            layers.append(text_layer(m, 985 - PLOT_LEFT, yy, 15.5, baseline="middle"))
    if last:
        p1, sub1, p2, sup2, sub2, p3 = ("Normalized number of model evaluations i", "METHOD", "/i", "*",
                                        "DADVI", "(Values > 1 are log10 transformed)")
        total = (tw(p1, AX_FS) + tw(sub1, SUB_FS) + tw(p2, AX_FS)
                 + max(tw(sup2, SUB_FS), tw(sub2, SUB_FS)) + tw(p3, AX_FS))
        x0 = W / 2 - total / 2
        by = 722 - top
        layers.append(text_layer(p1, x0, by, AX_FS))
        x1 = x0 + tw(p1, AX_FS)
        layers.append(text_layer(sub1, x1, by + 4.5, SUB_FS))
        x2 = x1 + tw(sub1, SUB_FS)
        layers.append(text_layer(p2, x2, by, AX_FS))
        x3 = x2 + tw(p2, AX_FS)
        layers.append(text_layer(sup2, x3 + 3, by - 8, SUB_FS))
        layers.append(text_layer(sub2, x3 + 0.5, by + 4.5, SUB_FS))
        x4 = x3 + 0.5 + max(tw(sup2, SUB_FS), tw(sub2, SUB_FS))
        layers.append(text_layer(p3, x4, by, AX_FS))
    return alt.layer(*layers).properties(width=W, height=H)


panels = [panel(i, m, c) for i, (m, c) in enumerate(zip(METHODS, COLORS))]
chart = alt.vconcat(*panels, spacing=GAP, bounds="flush").properties(
    padding={"left": 0, "top": 0, "right": 0, "bottom": -3},
    background="white",
).configure_view(stroke="#333333", strokeWidth=1.3)

chart.save("out.html", embed_options={"renderer": "svg", "actions": False})
